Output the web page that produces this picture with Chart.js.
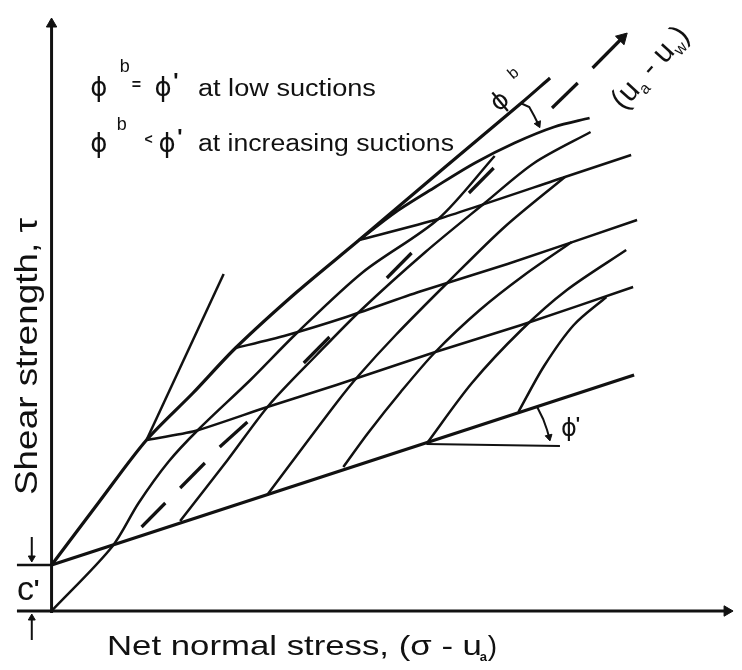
<!DOCTYPE html>
<html>
<head>
<meta charset="utf-8">
<title>Shear strength envelope</title>
<script src="https://cdn.jsdelivr.net/npm/chart.js@4.4.1/dist/chart.umd.min.js"></script>
<style>
    html, body { margin: 0; padding: 0; background: #fff; }
    #wrap { width: 742px; height: 670px; }
</style>
</head>
<body>
<div id="wrap"><canvas id="envelopeChart"></canvas></div>
<script>
const INK = "#111111";
const SANS = '"Liberation Sans", Arial, sans-serif';
const GREEK = '"DejaVu Sans", sans-serif';

// net normal stress along x, shear strength along y (same arbitrary units)
const cohesion = 46;

// saturated envelope (slope phi') and the suction-dependent envelopes
const satEnvelope = [[0, 46], [589, 236]];
const topEnvelope = [[0, 46], [48, 109], [96, 171], [143, 218], [186, 263], [248, 319], [311, 371], [398, 444], [475, 508], [504, 533]];
const curvedEnvelope = [[311, 371], [348, 399], [388, 424], [428, 448], [468, 468], [508, 484], [544, 493]];
const steepLine = [[96, 171], [174, 337]];

// lines of constant suction
const suction1 = [[96, 171], [145, 180], [215, 203], [288, 226], [388, 259], [475, 286], [588, 324]];
const suction2 = [[186, 263], [235, 275], [298, 294], [371, 319], [461, 347], [592, 391]];
const suction3 = [[311, 371], [391, 392], [519, 434], [586, 456]];

// lines of constant net normal stress
const stress1 = [[0, 0], [61, 64], [88, 108], [118, 149], [148, 181], [201, 231], [248, 278], [315, 339], [391, 392], [448, 455]];
const stress2 = [[130, 90], [178, 151], [220, 206], [268, 256], [313, 301], [378, 359], [438, 408], [488, 448], [545, 479]];
const stress3 = [[218, 116], [288, 208], [311, 236], [348, 276], [401, 329], [458, 384], [519, 434]];
const stress4 = [[295, 144], [320, 178], [353, 219], [388, 259], [433, 301], [478, 336], [526, 369]];
const stress5 = [[379, 167], [425, 228], [475, 281], [521, 321], [581, 361]];
const stress6 = [[472, 199], [498, 245], [528, 286], [561, 314]];

// matric suction axis (ua - uw), drawn dashed
const suctionAxisDashes = [
    [[91, 84], [115, 108]], [[130, 123], [155, 148]], [[170, 164], [198, 189]],
    [[255, 248], [281, 274]], [[339, 333], [364, 358]], [[422, 418], [447, 443]],
    [[506, 503], [532, 528]]
];
const suctionAxisArrow = [[547, 543], [577, 573]];

// angle markers
const phiBase = [[379, 167], [514, 165]];
const phiArc = [[491, 204], [497, 192], [501, 181], [503, 174]];
const phiBArc = [[474, 508], [483, 504], [488, 495], [492, 487]];

// axes and the c' dimension
const xAxisLine = [[-35, 0], [683, 0]];
const yAxisLine = [[0, -2], [0, 587]];
const cohesionTick = [[-35, cohesion], [0, cohesion]];
const cohesionArrowTop = [[-20, 74], [-20, 53]];
const cohesionArrowBottom = [[-20, -29], [-20, -7]];

function path(points, width, extra) {
    return Object.assign({
        data: points.map(p => ({ x: p[0], y: p[1] })),
        showLine: true,
        borderColor: INK,
        borderWidth: width,
        pointRadius: 0,
        pointHoverRadius: 0,
        tension: 0,
        clip: false
    }, extra || {});
}

function arrow(points, width, rotation, size) {
    const last = points.length - 1;
    return path(points, width, {
        pointStyle: "triangle",
        pointRotation: rotation,
        pointRadius: ctx => ctx.dataIndex === last ? (size || 6) : 0,
        pointBackgroundColor: INK,
        pointBorderColor: INK,
        pointBorderWidth: 1
    });
}

const datasets = [
    arrow(xAxisLine, 3, 90, 6),
    arrow(yAxisLine, 3, 0, 6),
    path(cohesionTick, 2.5),
    arrow(cohesionArrowTop, 2, 180, 4),
    arrow(cohesionArrowBottom, 2, 0, 4),

    path(satEnvelope, 3.4),
    path(topEnvelope, 3.2, { tension: 0.3 }),
    path(curvedEnvelope, 2.8, { tension: 0.3 }),
    path(steepLine, 2.5),

    path(suction1, 2.5, { tension: 0.2 }),
    path(suction2, 2.5, { tension: 0.2 }),
    path(suction3, 2.5, { tension: 0.2 }),

    path(stress1, 2.5, { tension: 0.3 }),
    path(stress2, 2.5, { tension: 0.3 }),
    path(stress3, 2.5, { tension: 0.3 }),
    path(stress4, 2.5, { tension: 0.3 }),
    path(stress5, 2.5, { tension: 0.3 }),
    path(stress6, 2.5, { tension: 0.3 }),

    ...suctionAxisDashes.map(d => path(d, 3.2)),
    arrow(suctionAxisArrow, 3.2, 45, 7),

    path(phiBase, 2),
    arrow(phiArc, 2, 167, 4),
    arrow(phiBArc, 2, 155, 4)
];

function put(ctx, text, x, y, size, family, opts) {
    opts = opts || {};
    ctx.save();
    ctx.translate(x, y);
    if (opts.rotate) ctx.rotate(opts.rotate * Math.PI / 180);
    ctx.font = `${opts.weight || "normal"} ${size}px ${family}`;
    ctx.textAlign = opts.align || "left";
    ctx.textBaseline = "alphabetic";
    if (opts.width) {
        const w = ctx.measureText(text).width;
        ctx.scale(opts.width / w, 1);
    }
    ctx.fillText(text, 0, 0);
    ctx.restore();
}

const labelPlugin = {
    id: "envelopeLabels",
    afterDatasetsDraw(chart) {
        const { ctx, scales: { x, y } } = chart;
        const px = v => x.getPixelForValue(v);
        const py = v => y.getPixelForValue(v);
        ctx.save();
        ctx.fillStyle = INK;

        // legend text in the upper left
        put(ctx, "\u03D5", px(39), py(515), 26, GREEK);
        put(ctx, "b", px(69), py(539), 18, SANS);
        put(ctx, "=", px(81), py(521), 16, SANS, { weight: "bold" });
        put(ctx, "\u03D5", px(104), py(515), 26, GREEK);
        put(ctx, "'", px(123), py(523), 22, SANS, { weight: "bold" });
        put(ctx, "at low suctions", px(148), py(515), 23, SANS, { width: 178 });

        put(ctx, "\u03D5", px(39), py(459), 26, GREEK);
        put(ctx, "b", px(66), py(481), 18, SANS);
        put(ctx, "<", px(94), py(467), 14, SANS, { weight: "bold" });
        put(ctx, "\u03D5", px(108), py(459), 26, GREEK);
        put(ctx, "'", px(127), py(467), 22, SANS, { weight: "bold" });
        put(ctx, "at increasing suctions", px(148), py(460), 23, SANS, { width: 256 });

        // axis titles
        put(ctx, "Net normal stress, (\u03C3 - u", px(56), py(-44), 28, SANS, { width: 375 });
        put(ctx, "a", px(433), py(-50), 13, SANS, { weight: "bold" });
        put(ctx, ")", px(441), py(-44), 28, SANS);
        put(ctx, "Shear strength, \u03C4", px(-15), py(116), 32, SANS, { rotate: -90, width: 277 });

        // cohesion intercept
        put(ctx, "c", px(-35), py(11), 34, SANS);
        put(ctx, "'", px(-18), py(14), 24, SANS, { weight: "bold" });

        // angle labels
        put(ctx, "\u03D5", px(515), py(175), 24, GREEK);
        put(ctx, "'", px(530), py(181), 18, SANS, { weight: "bold" });
        put(ctx, "\u03D5", px(458), py(504), 25, GREEK, { rotate: -40, align: "center" });
        put(ctx, "b", px(470), py(534), 16, SANS, { rotate: -40, align: "center" });

        // suction axis label, written along the dashed axis
        ctx.save();
        ctx.translate(px(578), py(500));
        ctx.rotate(-48 * Math.PI / 180);
        let cx = 0;
        const piece = (t, size, dy) => {
            ctx.font = `${size}px ${SANS}`;
            ctx.fillText(t, cx, dy);
            cx += ctx.measureText(t).width;
        };
        piece("(", 30, 0);
        piece("u", 30, 0);
        piece("a", 16, 6);
        piece(" - ", 30, 0);
        piece("u", 30, 0);
        piece("w", 16, 6);
        piece(")", 30, 0);
        ctx.restore();

        ctx.restore();
    }
};

new Chart(document.getElementById("envelopeChart"), {
    type: "scatter",
    data: { datasets },
    options: {
        responsive: true,
        maintainAspectRatio: false,
        animation: false,
        events: [],
        layout: { padding: { left: 12, right: 0, top: 18, bottom: 19 } },
        plugins: {
            legend: { display: false },
            tooltip: { enabled: false }
        },
        scales: {
            x: { type: "linear", min: -40, max: 690, display: false },
            y: { type: "linear", min: -40, max: 593, display: false }
        }
    },
    plugins: [labelPlugin]
});
</script>
</body>
</html>
